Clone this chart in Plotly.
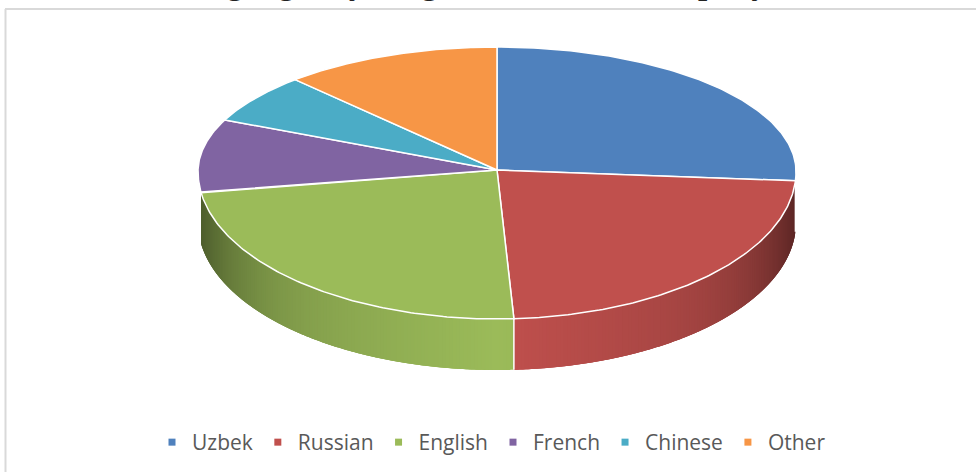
import numpy as np
import plotly.graph_objects as go

languages = ["Uzbek", "Russian", "English", "French", "Chinese", "Other"]
shares = [26.0, 23.1, 23.6, 9.1, 6.4, 11.8]
colors = ["#4f81bd", "#c0504d", "#9bbb59", "#8064a2", "#4bacc6", "#f79646"]
title_text = "Languages by usage in the whole company"

W, H = 976, 472
CX, CY = 497, 170      # pie apex on the page
RIM_Y = 171.5          # level of the widest part of the disc
RX = 299               # horizontal radius of the tilted disc
R_BACK, R_FRONT = 124.5, 147.5  # vertical radius behind and in front of RIM_Y
DEPTH = 51             # thickness of the disc


def project(theta):
    """Angle clockwise from 12 o'clock to page position on the tilted disc."""
    s, c = np.sin(theta), np.cos(theta)
    return CX + RX * s, RIM_Y - np.where(c > 0, R_BACK, R_FRONT) * c


def shade(hex_color, f):
    rgb = [int(hex_color[i:i + 2], 16) for i in (1, 3, 5)]
    return "rgb({},{},{})".format(*[int(round(v * f)) for v in rgb])


fractions = np.array(shares, dtype=float) / sum(shares)
edges = np.concatenate([[0], np.cumsum(fractions)]) * 2 * np.pi

fig = go.Figure()

# Side wall: overlapping strips under the slices whose middle faces the viewer
rim_right = np.pi / 2
for i, color in enumerate(colors):
    a0, a1 = edges[i], edges[i + 1]
    if not np.pi / 2 < (a0 + a1) / 2 < 3 * np.pi / 2:
        continue
    lo, hi = max(a0, rim_right), a1
    n = max(int((hi - lo) / 0.012), 1)
    steps = np.linspace(lo, hi, n + 1)
    for k in range(n):
        t_end = steps[min(k + 3, n)]
        ts = np.linspace(steps[k], t_end, 5)
        x, y = project(ts)
        xm = project(np.array([(steps[k] + steps[k + 1]) / 2]))[0][0]
        u = min(abs((xm - CX) / RX), 1)
        f = 1 - 0.20 * u - 0.32 * u ** 6
        c = shade(color, f)
        fig.add_trace(go.Scatter(
            x=np.concatenate([x, x[::-1]]), y=np.concatenate([y, y[::-1] + DEPTH]),
            mode="none", fill="toself", fillcolor=c,
            hoverinfo="skip", showlegend=False))
    if a0 > rim_right:
        x0, y0 = project(np.array([a0]))
        fig.add_trace(go.Scatter(
            x=[x0[0], x0[0]], y=[y0[0], y0[0] + DEPTH], mode="lines",
            line=dict(color="white", width=1.5), hoverinfo="skip", showlegend=False))

# Top face of the disc
for i, color in enumerate(colors):
    ts = np.linspace(edges[i], edges[i + 1], 120)
    x, y = project(ts)
    fig.add_trace(go.Scatter(
        x=np.concatenate([[CX], x, [CX]]), y=np.concatenate([[CY], y, [CY]]),
        mode="lines", fill="toself", fillcolor=color,
        line=dict(color="white", width=1.5),
        hovertemplate=f"{languages[i]}: {shares[i]}%<extra></extra>", showlegend=False))

# Legend entries
for name, color in zip(languages, colors):
    fig.add_trace(go.Scatter(
        x=[None], y=[None], mode="markers", name=name,
        marker=dict(symbol="square", size=7, color=color)))

fig.update_layout(
    width=W, height=H, margin=dict(l=0, r=0, t=0, b=0),
    paper_bgcolor="white", plot_bgcolor="white",
    xaxis=dict(range=[0, W], visible=False, fixedrange=True),
    yaxis=dict(range=[H, 0], visible=False, fixedrange=True),
    showlegend=True,
    legend=dict(
        orientation="h", x=152 / W, xanchor="left", y=(H - 422) / H, yanchor="top",
        font=dict(family="Open Sans", size=21, color="#595959"),
        bgcolor="rgba(0,0,0,0)", traceorder="normal"),
    shapes=[
        dict(type="line", xref="x", yref="y", x0=5.5, x1=5.5, y0=9, y1=H,
             line=dict(color="#d9d9d9", width=2), layer="below"),
        dict(type="line", xref="x", yref="y", x0=5, x1=W, y0=9, y1=9,
             line=dict(color="#d9d9d9", width=2), layer="below"),
    ],
    annotations=[dict(
        text=f"<b>{title_text}</b>", xref="paper", yref="paper", x=168 / W, y=1,
        xanchor="left", yanchor="bottom", showarrow=False, yshift=-3,
        font=dict(family="Liberation Serif", size=33, color="#222222"))],
)

fig.write_html("out.html", config=dict(displayModeBar=False),
               post_script="document.body.style.margin='0';document.body.style.overflow='hidden';")
